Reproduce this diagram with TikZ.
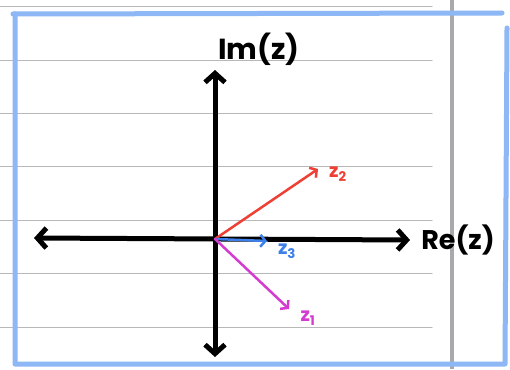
\documentclass[tikz,border=0pt]{standalone}
\usepackage{fontspec}
\setmainfont{Poppins}
\usetikzlibrary{arrows.meta}
\definecolor{ruleGray}{HTML}{B8B8B8}
\definecolor{divGray}{HTML}{A9A9AD}
\definecolor{frameBlue}{HTML}{8DB8F5}
\definecolor{zRed}{HTML}{EE4035}
\definecolor{zBlue}{HTML}{3D80EA}
\definecolor{zMag}{HTML}{D43BD0}
\begin{document}
\begin{tikzpicture}[x=1pt,y=-1pt, line cap=round, line join=round,
  ruled/.style={draw=ruleGray, line width=1pt},
  axisline/.style={line width=5pt, draw=black, {Straight Barb[length=9pt,width=20pt]}-{Straight Barb[length=9pt,width=20pt]}},
  vec/.style={line width=2.5pt, -{Straight Barb[length=5pt,width=12pt]}},
  axlbl/.style={font=\bfseries\fontsize{29}{31}\selectfont, inner sep=0pt},
  zlbl/.style={font=\bfseries\fontsize{19}{20}\selectfont, inner sep=0pt}]
\useasboundingbox (0,0) rectangle (510,369);
\fill[white] (0,0) rectangle (510,369);
\foreach \yy in {7,60,113,166,220,273,327} \draw[ruled] (0,\yy) -- (432,\yy);
\draw[line width=4pt, draw=divGray, line cap=butt] (452,0) -- (452,369);
% frame
\draw[line width=5pt, draw=frameBlue] (13,14) -- (502,13);
\draw[line width=5pt, draw=frameBlue] (15,14) -- (15,364) -- (505,364) -- (507,28);
% axes
\coordinate (O) at (215,239);
\coordinate (L) at (34,238);
\coordinate (R) at (410,240);
\coordinate (T) at (215,70);
\coordinate (B) at (215,357);
\draw[axisline] (L) -- (R);
\draw[axisline] (B) -- (T);
\node[axlbl] (im) at (259,49) {Im(z)};
\node[axlbl, font=\bfseries\fontsize{27}{29}\selectfont] (re) at (458,240) {Re(z)};
% vectors
\coordinate (p2) at (318,169);
\coordinate (p3) at (267,241);
\coordinate (p1) at (289,309);
\draw[vec, draw=zRed] (O) -- (p2);
\draw[vec, draw=zBlue] (O) -- (p3);
\draw[vec, draw=zMag] (O) -- (p1);
\node[zlbl, text=zRed] (z2) at (338,174) {z\textsubscript{2}};
\node[zlbl, text=zBlue] (z3) at (287,251) {z\textsubscript{3}};
\node[zlbl, text=zMag] (z1) at (308,318) {z\textsubscript{1}};
\end{tikzpicture}
\end{document}
